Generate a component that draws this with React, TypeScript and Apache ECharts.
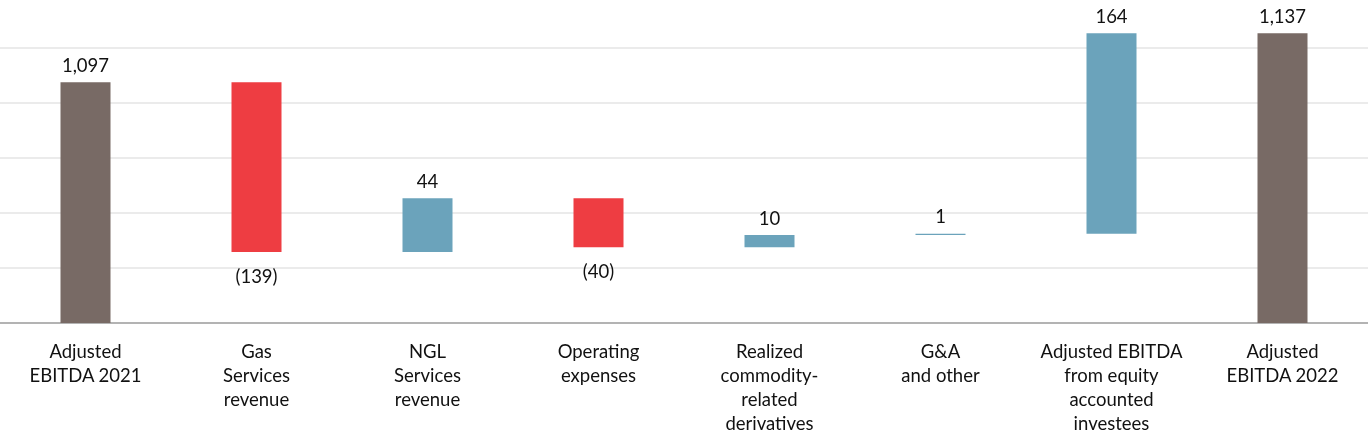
import React, { useEffect, useRef } from "react";
import * as echarts from "echarts";

const categories = [
  "Adjusted\nEBITDA 2021",
  "Gas\nServices\nrevenue",
  "NGL\nServices\nrevenue",
  "Operating\nexpenses",
  "Realized\ncommodity-\nrelated\nderivatives",
  "G&A\nand other",
  "Adjusted EBITDA\nfrom equity\naccounted\ninvestees",
  "Adjusted\nEBITDA 2022",
];
// kind: total | up | down
const kinds = ["total", "down", "up", "down", "up", "up", "up", "total"];
const changes = [1097, -139, 44, -40, 10, 1, 164, 1137];
const labels = ["1,097", "(139)", "44", "(40)", "10", "1", "164", "1,137"];

const COLORS: Record<string, string> = {
  total: "#786A65",
  up: "#6BA3BB",
  down: "#EE3D42",
};

export default function App() {
  const ref = useRef<HTMLDivElement>(null);
  useEffect(() => {
    if (!ref.current) return;
    const chart = echarts.init(ref.current, undefined, { renderer: "svg" });

    const base: number[] = [];
    const vis: any[] = [];
    let running = 0;
    changes.forEach((c, i) => {
      const k = kinds[i];
      if (k === "total") {
        base.push(0);
        running = c;
        vis.push({
          value: c,
          itemStyle: { color: COLORS.total },
          label: { show: true, position: "top", distance: 8, formatter: labels[i] },
        });
      } else if (k === "up") {
        base.push(running);
        running += c;
        vis.push({
          value: c,
          itemStyle: { color: COLORS.up },
          label: { show: true, position: "top", distance: 8, formatter: labels[i] },
        });
      } else {
        running += c;
        base.push(running);
        vis.push({
          value: -c,
          itemStyle: { color: COLORS.down },
          label: { show: true, position: "bottom", distance: 14, formatter: labels[i] },
        });
      }
    });

    const gridBottom = 117;
    const plotH = 440 - gridBottom;
    const yMin = 900;
    const yStep = 45;
    const yMax = yMin + (yStep * plotH) / 55;

    chart.setOption({
      animation: false,
      textStyle: { fontFamily: "Lato" },
      grid: { left: 0, right: 0, top: 0, bottom: gridBottom, containLabel: false },
      xAxis: {
        type: "category",
        data: categories,
        axisLine: { lineStyle: { color: "#A0A0A0", width: 1.5 } },
        axisTick: { alignWithLabel: true, length: 10, lineStyle: { color: "#A0A0A0", width: 1.5 } },
        axisLabel: {
          color: "#111",
          fontSize: 18.5,
          lineHeight: 24,
          margin: 16,
          interval: 0,
          fontFamily: "Lato",
        },
      },
      yAxis: {
        type: "value",
        min: yMin,
        max: yMax,
        interval: yStep,
        axisLabel: { show: false },
        axisLine: { show: false },
        axisTick: { show: false },
        splitLine: { showMaxLine: false, lineStyle: { color: "#E4E4E4", width: 1.5 } },
      },
      series: [
        {
          type: "bar",
          stack: "w",
          data: base,
          itemStyle: { color: "transparent" },
          barWidth: 50,
          silent: true,
        },
        {
          type: "bar",
          stack: "w",
          data: vis,
          barWidth: 50,
          label: {
            color: "#111",
            fontSize: 18.5,
            fontFamily: "Lato",
          },
        },
      ],
    });
    return () => chart.dispose();
  }, []);
  return (
    <div
      ref={ref}
      style={{ position: "fixed", left: 0, top: 0, width: 1368, height: 440 }}
    />
  );
}
